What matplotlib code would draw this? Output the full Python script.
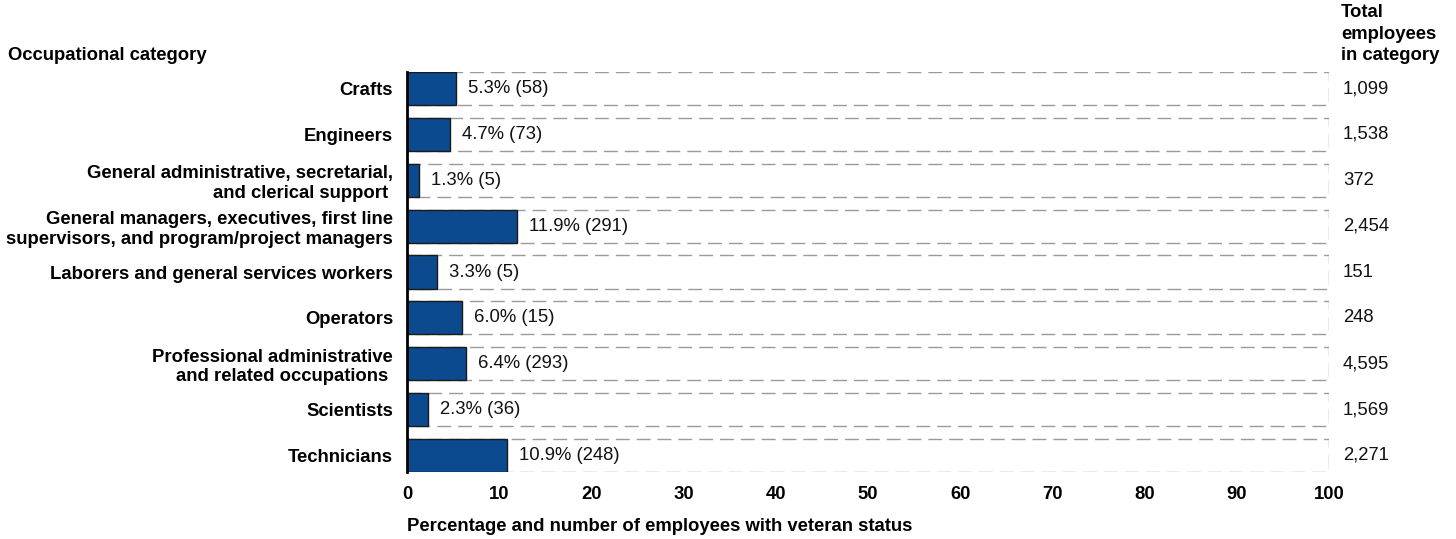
import numpy as np
import matplotlib.pyplot as plt

plt.rcParams['font.family'] = ['Liberation Sans', 'DejaVu Sans']

categories = [
    "Crafts",
    "Engineers",
    "General administrative, secretarial,\nand clerical support ",
    "General managers, executives, first line\nsupervisors, and program/project managers",
    "Laborers and general services workers",
    "Operators",
    "Professional administrative\nand related occupations ",
    "Scientists",
    "Technicians",
]
pct = [5.3, 4.7, 1.3, 11.9, 3.3, 6.0, 6.4, 2.3, 10.9]
counts = [58, 73, 5, 291, 5, 15, 293, 36, 248]
totals = [1099, 1538, 372, 2454, 151, 248, 4595, 1569, 2271]

W, H = 1456, 539
fs = 13.3
fig = plt.figure(figsize=(W / 100, H / 100), dpi=100)
ax = fig.add_axes([407 / W, 1 - 472 / H, (1329 - 407) / W, 400 / H])

y = np.arange(len(categories))
bh = 0.72
bar_color = "#0b4a8f"

# dashed background boxes to 100%
ax.barh(y, [100] * len(y), height=bh, color="white", edgecolor="#9a9a9a",
        linestyle=(0, (10, 5)), linewidth=1, zorder=1)
ax.barh(y, pct, height=bh, color=bar_color, edgecolor="#1a1a1a",
        linewidth=1, zorder=2)

for yi, p, c, t in zip(y, pct, counts, totals):
    ax.text(p + 1.3, yi, f"{p:.1f}% ({c})", va="center", ha="left",
            fontsize=fs, color="#111111", zorder=3)
    ax.text(101.5, yi, f"{t:,}", va="center", ha="left",
            fontsize=fs, color="#111111")

ax.set_xlim(0, 100)
ax.set_ylim(len(y) - 1 + bh / 2, -bh / 2)
ax.set_yticks(y)
ax.set_yticklabels(categories, fontsize=fs, fontweight="bold")
ax.set_xticks(np.arange(0, 101, 10))
ax.set_xticklabels([str(v) for v in range(0, 101, 10)], fontsize=fs,
                   fontweight="bold")
ax.tick_params(axis="x", length=0, pad=10)
ax.tick_params(axis="y", length=0, pad=10)
for s in ["top", "right", "bottom"]:
    ax.spines[s].set_visible(False)
ax.spines["left"].set_linewidth(2)
ax.spines["left"].set_color("black")
ax.spines["left"].set_zorder(4)

ax.set_xlabel("Percentage and number of employees with veteran status",
              fontsize=fs, fontweight="bold", loc="left", labelpad=11)

fig.text(8 / W, 1 - 56 / H, "Occupational category", fontsize=fs,
         fontweight="bold", ha="left", va="center")
fig.text(1341 / W, 1 - 4 / H, "Total\nemployees\nin category", fontsize=fs,
         fontweight="bold", ha="left", va="top", linespacing=1.35)

fig.savefig("out.png", dpi=100)
